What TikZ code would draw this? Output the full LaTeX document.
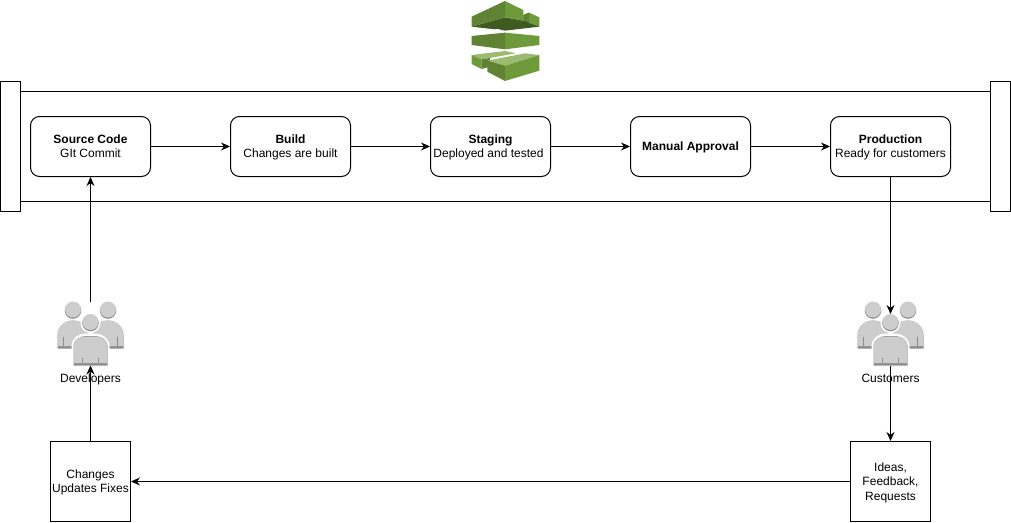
\documentclass[tikz,border=0pt]{standalone}
\usepackage{fontspec}
\setmainfont{Liberation Sans}
\usetikzlibrary{arrows.meta}
\definecolor{gLight}{HTML}{6F9A3C}
\definecolor{gDark}{HTML}{5F8233}
\definecolor{gUnder}{HTML}{3F5A20}
\definecolor{gTop}{HTML}{9BBB70}
\definecolor{pLight}{HTML}{CDCDCD}
\definecolor{pDark}{HTML}{8E8E8E}
\tikzset{
  stagebox/.style={draw, rounded corners=9pt, minimum width=120pt, minimum height=60pt, inner sep=0pt},
  notebox/.style={draw, minimum width=80pt, minimum height=80pt, inner sep=0pt},
  boxtext/.style={align=center, inner sep=0pt, yshift=-1pt},
  iconbox/.style={minimum width=66pt, minimum height=63pt, inner sep=0pt},
  iconlabel/.style={inner sep=0pt, anchor=base},
  flow/.style={-{Stealth[length=9pt,width=8pt]}},
  halfperson/.pic={
    \fill[pDark] (-33,15) -- (-33,2) .. controls (-33,-7) and (-26,-13) .. (-17,-13) .. controls (-10,-13) and (-4,-9) .. (-3,-4) -- (-3,15) -- cycle;
    \fill[pLight] (-33,12.5) -- (-33,2) .. controls (-33,-7) and (-26,-13) .. (-17,-13) .. controls (-10,-13) and (-4,-9) .. (-3,-4) -- (-3,12.5) -- cycle;
    \draw[pDark,line width=0.7pt] (-27,3) -- (-27,12.5);
    \fill[pDark] (-17.5,-23) circle (8.3);
    \fill[pLight] (-17.5,-24) circle (8);
  },
  people/.pic={
    \pic {halfperson};
    \pic[xscale=-1] {halfperson};
    % front person
    \fill[white] (0,-10.5) circle (10);
    \fill[white] (-19,34) -- (-19,13) .. controls (-19,5) and (-12,0) .. (-5,0) -- (5,0) .. controls (12,0) and (19,5) .. (19,13) -- (19,34) -- cycle;
    \fill[pDark] (0,-10.5) circle (8.3);
    \fill[pLight] (0,-11.5) circle (8);
    \fill[pDark] (-17,32) -- (-17,12) .. controls (-17,7) and (-11,2.5) .. (-5,2.5) -- (5,2.5) .. controls (11,2.5) and (17,7) .. (17,12) -- (17,32) -- cycle;
    \fill[pLight] (-17,29.5) -- (-17,13) .. controls (-17,7) and (-11,3) .. (-5,3) -- (5,3) .. controls (11,3) and (17,7) .. (17,13) -- (17,29.5) -- cycle;
    \foreach \x in {-8,8}{\draw[pDark,line width=0.7pt] (\x,24) -- (\x,29.5);}
  }
}
\begin{document}
\begin{tikzpicture}[x=1pt,y=-1pt,line width=1pt,font=\fontsize{12}{14.5}\selectfont]
\useasboundingbox (0,0) rectangle (1011,522);

% pipeline band
\draw (20.5,91.5) -- (990.5,91.5);
\draw (20.5,201.5) -- (990.5,201.5);
\foreach \x in {0.5,990.5}{\draw (\x,81.5) rectangle ({\x+20},211.5);}

% stages
\node[stagebox,label={[boxtext]center:{\textbf{Source Code}\\GIt Commit\vphantom{y}}}] (source) at (90.5,146.5) {};
\node[stagebox,label={[boxtext]center:{\textbf{Build}\\Changes are built}}] (build) at (290.5,146.5) {};
\node[stagebox,label={[boxtext]center:{\textbf{Staging}\\Deployed and tested\hspace*{4pt}}}] (staging) at (490.5,146.5) {};
\node[stagebox,label={[boxtext]center:{\textbf{Manual Approval}}}] (approval) at (690.5,146.5) {};
\node[stagebox,label={[boxtext]center:{\textbf{Production}\\Ready for customers}}] (production) at (890.5,146.5) {};

% people and notes
\node[iconbox] (developers) at (90.5,333.5) {};
\node[iconbox] (customers) at (890.5,333.5) {};
\pic at (developers) {people};
\pic at (customers) {people};
\node[iconlabel] (devlabel) at (90.5,382) {Developers};
\node[iconlabel] (custlabel) at (890.5,382) {Customers};
\node[notebox,label={[boxtext]center:{Changes\\Updates Fixes}}] (changes) at (90.5,481.5) {};
\node[notebox,label={[boxtext]center:{Ideas,\\Feedback,\\Requests}}] (ideas) at (890.5,481.5) {};
\coordinate (custin) at (890.5,314);

\foreach \a/\b in {source/build,build/staging,staging/approval,approval/production}{
  \draw[flow] (\a) -- (\b);
}
\draw[flow] (production) -- (custin);
\draw[flow] (customers) -- (ideas);
\draw[flow] (ideas) -- (changes);
\draw[flow] (changes) -- (developers);
\draw[flow] (developers) -- (source);

% pipeline icon
\begin{scope}[shift={(450,0)},x=0.3333pt,y=-0.3333pt]
\fill[gLight] (220,45) -- (237,38) -- (268,52) -- (268,80) -- (220,62) -- cycle;
\fill[gDark] (220,45) -- (237,38) -- (237,68) -- (220,62) -- cycle;
\fill[gUnder] (135,85) -- (220,62) -- (268,80) -- (165,92) -- cycle;
\fill[gUnder] (65,80) -- (165,52) -- (220,62) -- (135,88) -- cycle;
\fill[gDark] (65,50) -- (165,3) -- (165,52) -- (65,80) -- cycle;
\fill[gLight] (165,3) -- (220,30) -- (220,62) -- (165,52) -- cycle;
\fill[gDark] (65,108) -- (165,98) -- (165,148) -- (65,135) -- cycle;
\fill[gLight] (165,98) -- (268,108) -- (268,135) -- (165,148) -- cycle;
\fill[gTop] (65,165) -- (165,153) -- (198,160) -- (95,178) -- cycle;
\fill[gLight] (65,165) -- (95,178) -- (95,207) -- (65,192) -- cycle;
\fill[gDark] (95,178) -- (120,174) -- (120,200) -- (95,207) -- cycle;
\fill[gTop] (112,182) -- (225,160) -- (268,165) -- (165,197) -- cycle;
\fill[gDark] (112,182) -- (165,197) -- (165,243) -- (112,215) -- cycle;
\fill[gLight] (165,197) -- (268,165) -- (268,212) -- (165,243) -- cycle;
\end{scope}
\end{tikzpicture}
\end{document}
